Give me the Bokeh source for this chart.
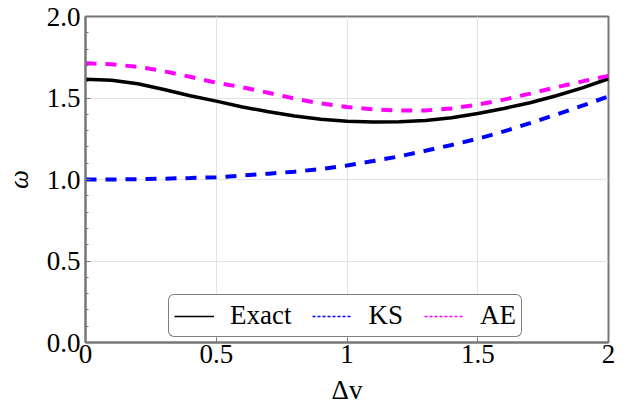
import numpy as np
from bokeh.plotting import figure
from bokeh.models import FixedTicker, Legend, LegendItem, Range1d
from bokeh.embed import file_html
from bokeh.resources import INLINE

dv = [0.0, 0.1, 0.2, 0.3, 0.4, 0.5, 0.6, 0.7, 0.8, 0.9, 1.0,
      1.1, 1.2, 1.3, 1.4, 1.5, 1.6, 1.7, 1.8, 1.9, 2.0]
exact = [1.615, 1.609, 1.587, 1.552, 1.514, 1.481, 1.445, 1.416, 1.390, 1.370, 1.358,
         1.353, 1.354, 1.362, 1.379, 1.405, 1.436, 1.471, 1.514, 1.562, 1.618]
ks = [1.000, 1.000, 1.002, 1.005, 1.009, 1.014, 1.024, 1.036, 1.048, 1.064, 1.086,
      1.113, 1.142, 1.176, 1.212, 1.250, 1.295, 1.346, 1.398, 1.453, 1.510]
ae = [1.713, 1.707, 1.691, 1.665, 1.630, 1.594, 1.566, 1.532, 1.496, 1.467, 1.445,
      1.430, 1.423, 1.424, 1.436, 1.459, 1.490, 1.527, 1.566, 1.602, 1.636]

x_ticks = [0, 0.5, 1, 1.5, 2]
x_tick_labels = ["0", "0.5", "1", "1.5", "2"]
y_ticks = [0, 0.5, 1.0, 1.5, 2.0]
y_tick_labels = ["0.0", "0.5", "1.0", "1.5", "2.0"]
y_minor = [0.1, 0.2, 0.3, 0.4, 0.6, 0.7, 0.8, 0.9, 1.1, 1.2, 1.3, 1.4, 1.6, 1.7, 1.8, 1.9]

FONT = "Liberation Serif"
AX = "#777777"

p = figure(width=637, height=415, output_backend="svg", toolbar_location=None,
           x_range=Range1d(0, 2), y_range=Range1d(0, 2),
           min_border_left=82, min_border_right=29, min_border_top=16, min_border_bottom=73)
p.background_fill_color = "white"
p.border_fill_color = "white"
p.outline_line_color = AX
p.outline_line_width = 2

p.line(dv, exact, line_color="black", line_width=3.5)
p.line(dv, ks, line_color="#0000ff", line_width=4, line_dash="11 9")
p.line(dv, ae, line_color="#ff00ff", line_width=4, line_dash="11 9")

nan = [float("nan")]
r1 = p.line(nan, nan, line_color="black", line_width=1.3)
r2 = p.line(nan, nan, line_color="#0000ff", line_width=1.3, line_dash="3 2")
r3 = p.line(nan, nan, line_color="#ff00ff", line_width=1.3, line_dash="3 2")

legend = Legend(items=[LegendItem(label="Exact", renderers=[r1]),
                       LegendItem(label="KS", renderers=[r2]),
                       LegendItem(label="AE", renderers=[r3])],
                orientation="horizontal", location=(83, 5))
legend.label_text_font = FONT
legend.label_text_font_size = "27px"
legend.label_text_color = "black"
legend.glyph_width = 40
legend.label_standoff = 16
legend.spacing = 21
legend.padding = 5
legend.margin = 0
legend.label_height = 28
legend.border_line_color = "black"
legend.border_line_width = 1
legend.border_radius = 6
legend.background_fill_alpha = 1
p.add_layout(legend)

xa = p.xaxis[0]
ya = p.yaxis[0]
xa.ticker = FixedTicker(ticks=x_ticks)
xa.major_label_overrides = {t: l for t, l in zip(x_ticks, x_tick_labels)}
ya.ticker = FixedTicker(ticks=y_ticks, minor_ticks=y_minor)
ya.major_label_overrides = {t: l for t, l in zip(y_ticks, y_tick_labels)}

for ax in (xa, ya):
    ax.axis_line_color = AX
    ax.axis_line_width = 2
    ax.major_tick_line_color = AX
    ax.minor_tick_line_color = AX
    ax.major_tick_in = 5
    ax.major_tick_out = 0
    ax.minor_tick_in = 3
    ax.minor_tick_out = 0
    ax.major_label_text_font = FONT
    ax.major_label_text_font_size = "27px"
    ax.major_label_text_color = "black"
    ax.axis_label_text_font = FONT
    ax.axis_label_text_font_size = "27px"
    ax.axis_label_text_color = "black"
    ax.axis_label_text_font_style = "normal"
xa.minor_tick_line_color = None
xa.major_label_standoff = 2
ya.major_label_standoff = 5
xa.axis_label = "Δv"
ya.axis_label = "ω"
ya.axis_label_text_font_style = "italic"
xa.axis_label_standoff = 9
ya.axis_label_standoff = 10

p.xgrid.ticker = FixedTicker(ticks=x_ticks)
p.ygrid.ticker = FixedTicker(ticks=y_ticks)
p.grid.grid_line_color = "#e3e3e3"
p.grid.grid_line_width = 1

open("out.html", "w").write(file_html(p, INLINE))
